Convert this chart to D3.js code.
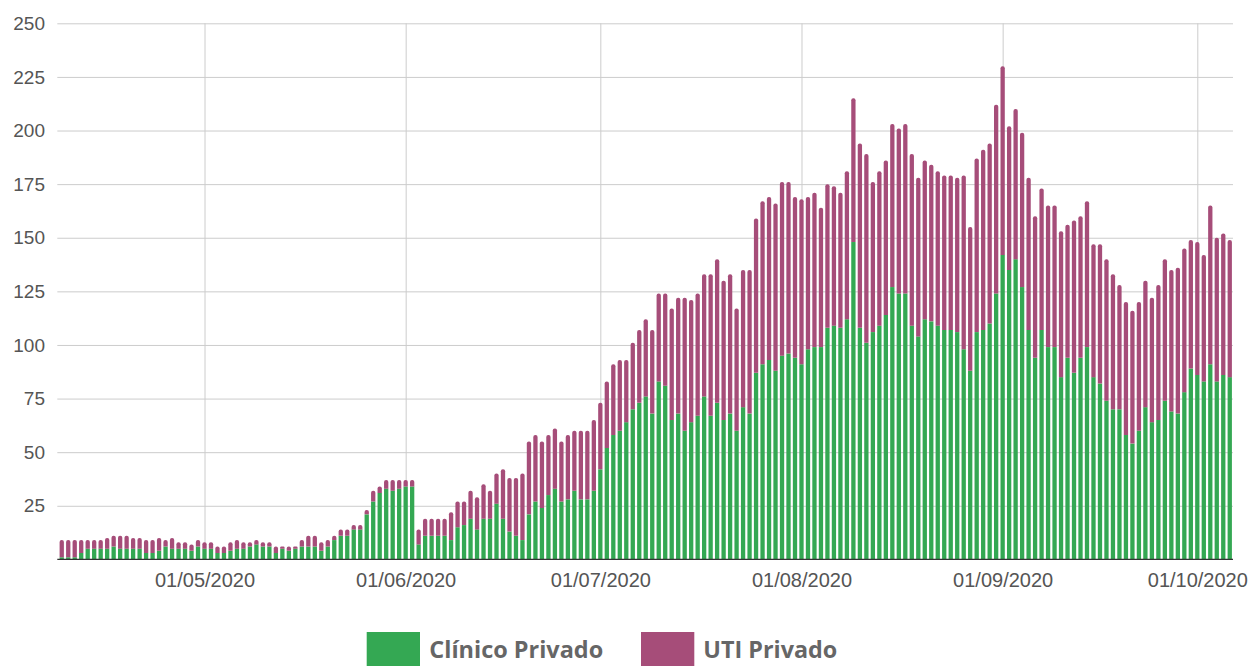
<!DOCTYPE html>
<html><head><meta charset="utf-8">
<script src="https://cdn.jsdelivr.net/npm/d3@7"></script>
<style>body{margin:0;background:#fff}svg{display:block}</style>
</head><body><svg id="c" width="1251" height="666"></svg>
<script>
// ---- data ----
const startDate = "2020-04-09";
const endDate = "2020-10-06";
const seriesNames = ["Clínico Privado", "UTI Privado"];
const seriesColors = ["#34a853", "#a64d79"];
const clinicoPrivado = [
  1,1,1,3,5,5,5,5,6,5,5,5,5,3,3,4,6,5,5,5,4,6,
  5,5,3,3,4,5,5,6,7,6,6,3,5,4,5,6,6,6,4,6,9,11,11,14,14,21,27,31,33,32,33,
  34,34,7,11,11,11,11,9,15,16,19,14,19,19,26,19,13,11,9,21,27,24,30,33,27,28,32,28,28,32,
  42,52,58,60,64,70,73,76,68,83,81,65,68,60,64,67,76,67,73,65,68,60,71,68,87,91,93,88,95,96,94,
  91,98,99,99,108,109,108,112,148,108,101,106,109,114,127,124,124,109,104,112,111,109,107,107,106,98,88,106,107,110,124,
  142,135,140,127,107,94,107,99,99,85,94,87,94,99,85,82,74,70,70,58,54,60,71,64,65,74,69,68,78,89,
  86,83,91,83,86,85
];
const utiPrivado = [
  8,8,8,6,4,4,4,5,5,6,6,5,5,6,6,6,3,5,3,3,3,3,
  3,3,3,3,4,4,3,2,2,2,2,3,1,2,1,3,5,5,4,3,2,3,3,2,2,2,5,3,4,5,4,
  3,3,7,8,8,8,8,13,12,11,13,15,16,13,14,23,25,27,31,34,31,31,28,28,28,30,28,32,32,33,
  31,31,33,33,29,31,34,36,39,41,43,52,54,62,57,57,57,66,67,65,65,57,64,67,72,76,76,78,81,80,75,
  77,71,72,65,67,65,63,69,67,86,88,70,72,72,76,77,79,80,74,74,73,72,72,72,72,81,67,81,84,84,88,
  88,67,70,72,71,66,66,66,66,68,62,71,66,68,62,65,66,63,58,62,62,60,59,58,63,66,66,68,67,60,
  62,59,74,67,66,64
];
const yTicks = [25, 50, 75, 100, 125, 150, 175, 200, 225, 250];
const xTickDates = ["2020-05-01","2020-06-01","2020-07-01","2020-08-01","2020-09-01","2020-10-01"];
const xTickLabels = ["01/05/2020","01/06/2020","01/07/2020","01/08/2020","01/09/2020","01/10/2020"];

// ---- build ----
const parse = d3.utcParse("%Y-%m-%d");
const dates = d3.utcDay.range(parse(startDate), d3.utcDay.offset(parse(endDate), 1));
const rows = dates.map((d, i) => ({date: d, clinico: clinicoPrivado[i], uti: utiPrivado[i]}));
const stacked = d3.stack().keys(["clinico", "uti"])(rows);

const L = 57.3, R = 1233, T = 23.3, B = 559.4;
const halfDay = 12 * 3600 * 1000;
const x = d3.scaleUtc()
  .domain([+dates[0] - halfDay, +dates[dates.length - 1] + halfDay])
  .range([58.5, R]);
const y = d3.scaleLinear().domain([0, 250]).range([B, T]);
const bw = 4.3;

const svg = d3.select("#c");
const font = "'Liberation Sans', Arial, sans-serif";

// horizontal grid + y labels
const ya = svg.append("g").attr("transform", `translate(${L},0)`)
  .call(d3.axisLeft(y).tickValues(yTicks).tickSize(-(R - L)).tickPadding(12.3));
ya.select(".domain").remove();
ya.selectAll("line").attr("stroke", "#cccccc").attr("stroke-width", 1);
ya.selectAll("text").attr("fill", "#555").style("font-family", font).style("font-size", "19px");

// vertical grid + x labels
const xa = svg.append("g").attr("transform", `translate(0,${B})`)
  .call(d3.axisBottom(x).tickValues(xTickDates.map(parse)).tickSize(-(B - T)).tickPadding(13)
    .tickFormat((d, i) => xTickLabels[i]));
xa.select(".domain").remove();
xa.selectAll("line").attr("stroke", "#cccccc").attr("stroke-width", 1);
xa.selectAll("text").attr("fill", "#555").style("font-family", font).style("font-size", "20px");

// bars
const gBars = svg.append("g");
gBars.selectAll("rect.cl").data(stacked[0]).join("rect").attr("class", "cl")
  .attr("x", d => x(d.data.date) - bw / 2)
  .attr("y", d => y(d[1]))
  .attr("width", bw)
  .attr("height", d => y(d[0]) - y(d[1]))
  .attr("fill", seriesColors[0]);
const r = 2;
gBars.selectAll("path.uti").data(stacked[1]).join("path").attr("class", "uti")
  .attr("d", d => {
    const x0 = x(d.data.date) - bw / 2, x1 = x0 + bw;
    const yt = y(d[1]), yb = y(d[0]);
    const rr = Math.min(r, (yb - yt) / 2);
    return `M${x0},${yb}L${x0},${yt + rr}Q${x0},${yt} ${x0 + rr},${yt}L${x1 - rr},${yt}Q${x1},${yt} ${x1},${yt + rr}L${x1},${yb}Z`;
  })
  .attr("fill", seriesColors[1]);

// baseline
svg.append("line").attr("x1", L).attr("x2", R).attr("y1", B).attr("y2", B)
  .attr("stroke", "#333").attr("stroke-width", 1.2);

// legend
const legend = [
  {sx: 366.7, tx: 429.3, tw: 174},
  {sx: 641, tx: 703.3, tw: 134}
];
legend.forEach((l, i) => {
  svg.append("rect").attr("x", l.sx).attr("y", 632).attr("width", 53.3).attr("height", 40)
    .attr("fill", seriesColors[i]);
  const t = svg.append("text").attr("x", l.tx).attr("y", 658)
    .attr("fill", "#666").style("font-family", "'Open Sans', sans-serif")
    .style("font-weight", "700").style("font-size", "22px").text(seriesNames[i]);
  const w = t.node().getComputedTextLength();
  t.style("font-size", (22 * l.tw / w).toFixed(2) + "px");
});
</script></body></html>
